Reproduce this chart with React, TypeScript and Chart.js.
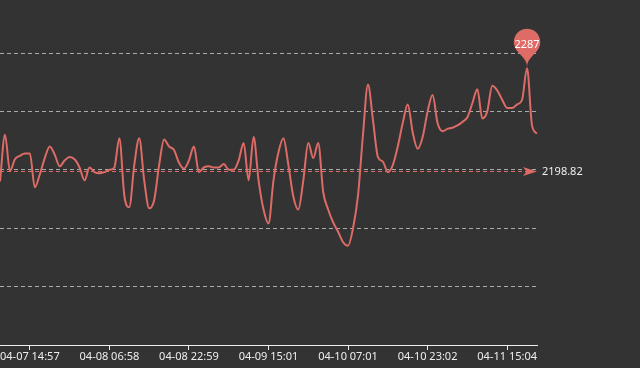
import React, { useEffect, useRef } from 'react';
import { Chart, registerables } from 'chart.js';

Chart.register(...registerables);

// ---- data ----
const tickLabels = [
  '04-07 14:57',
  '04-08 06:58',
  '04-08 22:59',
  '04-09 15:01',
  '04-10 07:01',
  '04-10 23:02',
  '04-11 15:04',
];
const firstTickIndex = 6;
const tickEvery = 16;

const values = [
  2190, 2230, 2199, 2209, 2212, 2214, 2214, 2185, 2196, 2210,
  2220, 2213, 2203, 2208, 2211, 2209, 2202, 2191, 2202, 2198,
  2197, 2198, 2200, 2202, 2227, 2178, 2168, 2204, 2227, 2191,
  2167, 2174, 2204, 2226, 2220, 2217, 2206, 2201, 2208, 2220,
  2198, 2202, 2203, 2202, 2202, 2205, 2200, 2200, 2208, 2223,
  2191, 2228, 2191, 2166, 2154, 2191, 2215, 2227, 2204, 2177,
  2166, 2191, 2223, 2210, 2223, 2181, 2166, 2155, 2147, 2138,
  2135, 2150, 2178, 2230, 2273, 2243, 2211, 2207, 2198, 2204,
  2220, 2240, 2256, 2232, 2218, 2228, 2250, 2264, 2240, 2233,
  2235, 2236, 2238, 2241, 2245, 2257, 2269, 2244, 2250, 2272,
  2268, 2260, 2253, 2253, 2256, 2260, 2287, 2238, 2231,
];

const yMin = 2050;
const yMax = 2300;
const yStep = 50;
const averageValue = 2198.82;

const lineColor = '#dd6b66';
const textColor = '#eee';
const gridColor = '#aaa';
const bgColor = '#333';
const fontFamily = '"Noto Sans", sans-serif';

// category labels: hourly steps around the known tick labels
function pad(n: number) {
  return n < 10 ? '0' + n : '' + n;
}
function buildLabels(): string[] {
  const out: string[] = [];
  for (let i = 0; i < values.length; i++) {
    let k = Math.round((i - firstTickIndex) / tickEvery);
    k = Math.max(0, Math.min(tickLabels.length - 1, k));
    const base = tickLabels[k];
    const off = i - (firstTickIndex + tickEvery * k);
    const [md, hm] = base.split(' ');
    const [mo, da] = md.split('-').map(Number);
    const [hh, mi] = hm.split(':').map(Number);
    const d = new Date(2000, mo - 1, da, hh, mi);
    d.setHours(d.getHours() + off);
    out.push(`${pad(d.getMonth() + 1)}-${pad(d.getDate())} ${pad(d.getHours())}:${pad(d.getMinutes())}`);
  }
  return out;
}
const labels = buildLabels();

const markerPlugin = {
  id: 'markers',
  afterDatasetsDraw(chart: any) {
    const { ctx, chartArea, scales } = chart;
    const xs = scales.x;
    const ys = scales.y;

    // average mark line
    const ay = Math.round(ys.getPixelForValue(averageValue)) + 0.5;
    const xEnd = chartArea.right;
    ctx.save();
    ctx.strokeStyle = lineColor;
    ctx.lineWidth = 1;
    ctx.setLineDash([4, 3]);
    ctx.beginPath();
    ctx.moveTo(chartArea.left, ay);
    ctx.lineTo(xEnd - 8, ay);
    ctx.stroke();
    ctx.setLineDash([]);
    ctx.fillStyle = lineColor;
    ctx.beginPath();
    ctx.moveTo(xEnd, ay);
    ctx.lineTo(xEnd - 14, ay - 4.5);
    ctx.lineTo(xEnd - 10.5, ay);
    ctx.lineTo(xEnd - 14, ay + 4.5);
    ctx.closePath();
    ctx.fill();
    ctx.fillStyle = textColor;
    ctx.font = `11px ${fontFamily}`;
    ctx.textAlign = 'left';
    ctx.textBaseline = 'middle';
    ctx.fillText(averageValue.toFixed(2), xEnd + 5, ay);
    ctx.restore();

    // max pin
    let maxI = 0;
    for (let i = 1; i < values.length; i++) if (values[i] > values[maxI]) maxI = i;
    const px = xs.getPixelForValue(maxI);
    const py = ys.getPixelForValue(values[maxI]) - 1;
    const size = 44;
    const w = (size / 5) * 3;
    const h = Math.max(w, size);
    const r = w / 2;
    const dy = (r * r) / (h - r);
    const cy = py - h + r + dy;
    const angle = Math.asin(dy / r);
    const dx = Math.cos(angle) * r;
    const tanX = Math.sin(angle);
    const tanY = Math.cos(angle);
    const cpLen = r * 0.6;
    const cpLen2 = r * 0.7;
    ctx.save();
    ctx.fillStyle = lineColor;
    ctx.beginPath();
    ctx.moveTo(px - dx, cy + dy);
    ctx.arc(px, cy, r, Math.PI - angle, Math.PI * 2 + angle);
    ctx.bezierCurveTo(px + dx - tanX * cpLen, cy + dy + tanY * cpLen, px, py - cpLen2, px, py);
    ctx.bezierCurveTo(px, py - cpLen2, px - dx + tanX * cpLen, cy + dy + tanY * cpLen, px - dx, cy + dy);
    ctx.closePath();
    ctx.fill();
    ctx.fillStyle = '#fff';
    ctx.font = `11px ${fontFamily}`;
    ctx.textAlign = 'center';
    ctx.textBaseline = 'middle';
    ctx.fillText(String(values[maxI]), px, py - size / 2);
    ctx.restore();
  },
};

export default function App() {
  const ref = useRef<HTMLCanvasElement | null>(null);

  useEffect(() => {
    document.body.style.margin = '0';
    document.body.style.background = bgColor;
    const canvas = ref.current;
    if (!canvas) return;
    const chart = new Chart(canvas, {
      type: 'line',
      data: {
        labels,
        datasets: [
          {
            data: values,
            borderColor: lineColor,
            borderWidth: 2,
            pointRadius: 0,
            pointHoverRadius: 0,
            cubicInterpolationMode: 'monotone',
            fill: false,
          },
        ],
      },
      options: {
        responsive: false,
        animation: false,
        events: [],
        layout: { padding: { top: 53, right: 103, bottom: 0, left: 0 } },
        plugins: {
          legend: { display: false },
          tooltip: { enabled: false },
        },
        scales: {
          x: {
            type: 'category',
            offset: false,
            afterFit: (axis: any) => {
              axis.height = 23;
            },
            border: { display: true, color: textColor, width: 1 },
            grid: {
              display: true,
              drawOnChartArea: false,
              drawTicks: true,
              tickLength: 5,
              color: textColor,
            },
            ticks: {
              autoSkip: false,
              maxRotation: 0,
              minRotation: 0,
              padding: 0,
              color: textColor,
              font: { family: fontFamily, size: 11 },
              callback: function (this: any, value: any, index: number) {
                if (index >= firstTickIndex && (index - firstTickIndex) % tickEvery === 0) {
                  return this.getLabelForValue(value);
                }
                return null;
              },
            },
          },
          y: {
            min: yMin,
            max: yMax,
            afterFit: (axis: any) => {
              axis.width = 0;
            },
            border: { display: false, dash: [4, 3] },
            grid: {
              drawTicks: false,
              color: (c: any) => (c.tick && c.tick.value === yMin ? 'rgba(0,0,0,0)' : gridColor),
              lineWidth: 1,
            },
            ticks: { display: false, stepSize: yStep },
          },
        },
      },
      plugins: [markerPlugin],
    });
    return () => chart.destroy();
  }, []);

  return (
    <div style={{ width: 640, height: 368, background: bgColor }}>
      <canvas ref={ref} width={640} height={368} style={{ display: 'block' }} />
    </div>
  );
}
